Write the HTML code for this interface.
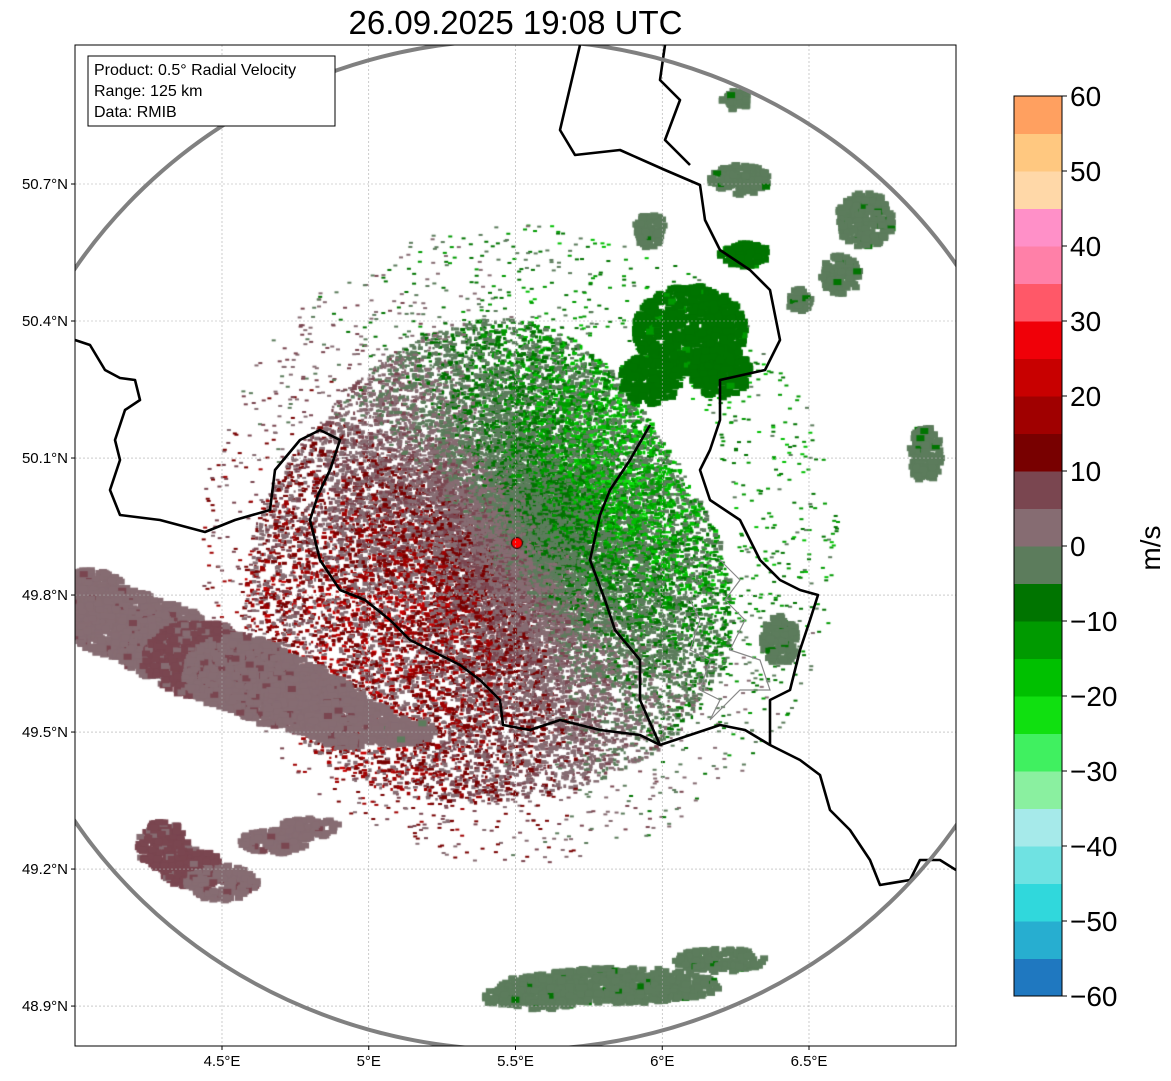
<!DOCTYPE html>
<html><head><meta charset="utf-8"><style>
body{margin:0;background:#fff;width:1171px;height:1081px;overflow:hidden;position:relative;font-family:"Liberation Sans",sans-serif}
#title{position:absolute;left:0;width:1031px;top:4px;text-align:center;font-size:33px;color:#000}
canvas{position:absolute;left:0;top:0}
svg{position:absolute;left:0;top:0}
</style></head><body>
<div id="title">26.09.2025 19:08 UTC</div>
<canvas id="cv" width="1171" height="1081"></canvas>
<svg id="sv" width="1171" height="1081"></svg>
<script>
// ---- data ----
const lonTicks=[4.5,5,5.5,6,6.5];
const lonLabels=["4.5°E","5°E","5.5°E","6°E","6.5°E"];
const latTicks=[50.7,50.4,50.1,49.8,49.5,49.2,48.9];
const latLabels=["50.7°N","50.4°N","50.1°N","49.8°N","49.5°N","49.2°N","48.9°N"];
const cbTicks=[-60,-50,-40,-30,-20,-10,0,10,20,30,40,50,60];
const cbLabels=["−60","−50","−40","−30","−20","−10","0","10","20","30","40","50","60"];
const cbColors=["#1f78c0","#27aed0","#30d8dc","#6fe2e2","#a6eaea","#8af0a0","#40f060","#10e010","#00c000","#009a00","#007400","#5c7c5c","#866c72","#7a4650","#780000","#a00000","#c80000","#f00008","#ff5868","#ff80a8","#ff90c8","#ffd8a8","#ffc880","#ffa060"];
const radarLon=5.505, radarLat=49.914;
// echo blobs: lon, lat, velocity (m/s)
const blobLon=[4.05,4.153,4.30,4.426,4.56,4.698,4.82,4.937,5.107,4.30,4.40,4.50,4.68,4.80,5.857,5.584,6.198,5.448,6.095,5.959,6.198,5.959,6.283,6.692,6.606,6.896,6.470,6.402,6.266,6.249];
const blobLat=[49.79,49.74,49.70,49.66,49.63,49.59,49.56,49.52,49.50,49.25,49.20,49.17,49.26,49.29,48.945,48.93,49.00,48.92,50.38,50.271,50.293,50.599,50.545,50.621,50.501,50.107,50.446,49.701,50.709,50.884];
const blobV=[4,3,4,5,4,4,3,4,2,7,5,4,4,3,-3,-3,-3,-3,-8,-8,-8,-3,-8,-3,-3,-3,-3,-3,-3,-3];
const blobRx=[40,50,50,55,55,55,50,45,35,25,30,35,35,30,100,45,45,20,55,30,30,15,25,28,20,16,12,18,30,14];
const blobRy=[30,35,38,38,38,35,30,25,14,25,20,18,12,10,18,18,12,8,45,25,28,18,12,28,20,28,12,25,15,10];
// ---- axes ----
const X0=75,X1=956,Y0=45,Y1=1046;
const xs=lon=>222+(lon-4.5)*293.5;
const ys=lat=>184+(50.7-lat)*456.7;
const cbY=v=>996-(v+60)*7.5;
function colorOf(v){let i=Math.floor((v+60)/5);i=Math.max(0,Math.min(23,i));return cbColors[i];}
// ---- canvas ----
const c=document.getElementById('cv').getContext('2d');
c.save();c.beginPath();c.rect(X0,Y0,X1-X0,Y1-Y0);c.clip();
let s=12345;function rnd(){s=(s*1664525+1013904223)>>>0;return s/4294967296;}
const cx=xs(radarLon),cy=ys(radarLat);
// dense speckle around radar
for(let k=0;k<40000;k++){
  const a=rnd()*6.283;
  const rmax=235+45*Math.cos(a-2.4)+15*Math.sin(a*3);
  const r=Math.pow(rnd(),0.75)*rmax;
  const px=cx+Math.cos(a)*r,py=cy+Math.sin(a)*r*1.02;
  if(rnd()<r/rmax*0.6) continue;
  const amp=Math.min(1,r/100);
  let v;
  const q=rnd();
  if(q<0.4) v=(-4*Math.cos(a+0.6))+(rnd()-0.5)*3;
  else v=-16*Math.cos(a+0.6)*amp+(rnd()-0.5)*12;
  c.fillStyle=colorOf(v);
  c.fillRect(px,py,2+rnd()*4,2+rnd()*2);
}
// sparse outer scatter
for(let k=0;k<1500;k++){
  const a=rnd()*6.283,r=220+rnd()*100;
  const px=cx+Math.cos(a)*r,py=cy+Math.sin(a)*r;
  let v=-12*Math.cos(a+0.6)+(rnd()-0.5)*16;
  c.fillStyle=colorOf(v);c.fillRect(px,py,4,2);
}
// blobs
for(let b=0;b<blobLon.length;b++){
  const bx=xs(blobLon[b]),by=ys(blobLat[b]);
  const n=Math.floor(blobRx[b]*blobRy[b]*0.3);
  for(let k=0;k<n;k++){
    const a=rnd()*6.283,r=Math.sqrt(rnd());
    const px=bx+Math.cos(a)*r*blobRx[b],py=by+Math.sin(a)*r*blobRy[b];
    const v=blobV[b]+(rnd()<0.25?(rnd()-0.5)*6:0);
    c.fillStyle=colorOf(v);
    c.fillRect(px-4,py-3,8,6);
  }
}
c.restore();
// radar marker
c.beginPath();c.arc(cx,cy,5.5,0,6.283);c.fillStyle="#f00";c.fill();c.strokeStyle="#000";c.lineWidth=1;c.stroke();
// ---- svg overlay ----
const sv=document.getElementById('sv');const NS="http://www.w3.org/2000/svg";
function el(t,at,p){const e=document.createElementNS(NS,t);for(const k in at)e.setAttribute(k,at[k]);(p||sv).appendChild(e);return e;}
const clip=el('clipPath',{id:'mc'});el('rect',{x:X0,y:Y0,width:X1-X0,height:Y1-Y0},clip);
const g=el('g',{'clip-path':'url(#mc)'});
lonTicks.forEach(v=>{const l=el('line',{x1:xs(v),x2:xs(v),y1:Y0,y2:Y1,stroke:'#aaa','stroke-width':0.6,'stroke-dasharray':'2,2'},g);

});
latTicks.forEach(v=>{const l=el('line',{x1:X0,x2:X1,y1:ys(v),y2:ys(v),stroke:'#aaa','stroke-width':0.6,'stroke-dasharray':'2,2'},g);

});
const borders=[
"75,340 90,345 105,370 120,378 135,380 140,400 125,410 115,440 120,460 110,490 120,515 160,520 205,532 235,520 270,510 275,470 300,440 320,430 340,440 330,470 318,495 310,520 320,560 340,590 365,600 390,620 410,640 430,650 460,665 480,680 500,700 503,725 530,730 560,720 600,730 640,735 660,745 690,735 720,725 745,730 770,745 800,760 820,775 830,810 850,830 870,860 880,885 910,880 920,860 940,860 956,870",
"580,45 560,130 575,155 620,150 665,170 700,185 705,220 720,250 750,270 770,290 780,340 765,370 720,380 720,420 710,450 700,470 710,500 740,520 760,560 780,580 800,590 818,595 810,620 800,650 790,690 770,700 770,745",
"665,45 660,80 680,100 665,140 690,165",
"650,425 630,460 610,490 600,515 590,560 605,600 615,630 640,660 640,700 660,745"];
borders.forEach(p=>{const e=el('polyline',{points:p,fill:'none',stroke:'#000','stroke-width':2.6,'stroke-linejoin':'round'},g);

});
const gb=el('polyline',{points:"720,560 740,580 725,600 745,620 730,650 760,660 770,690 740,690 710,720 720,700 700,690 710,660 690,650 700,620 690,600",fill:'none',stroke:'#888','stroke-width':1.2},g);


const ring=el('ellipse',{cx:cx,cy:cy+2,rx:528,ry:505,fill:'none',stroke:'#808080','stroke-width':4},g);


const fr=el('rect',{x:X0,y:Y0,width:X1-X0,height:Y1-Y0,fill:'none',stroke:'#000','stroke-width':1});


lonTicks.forEach((v,i)=>{el('line',{x1:xs(v),x2:xs(v),y1:Y1,y2:Y1+4,stroke:'#000'});
const t=el('text',{x:xs(v),y:Y1+20,'text-anchor':'middle','font-size':15,'font-family':'Liberation Sans'});t.textContent=lonLabels[i];

});
latTicks.forEach((v,i)=>{el('line',{x1:X0-4,x2:X0,y1:ys(v),y2:ys(v),stroke:'#000'});
const t=el('text',{x:X0-7,y:ys(v)+5,'text-anchor':'end','font-size':15,'font-family':'Liberation Sans'});t.textContent=latLabels[i];

});
// info box
const ib=el('rect',{x:88,y:56,width:247,height:70,fill:'#fff',stroke:'#000','stroke-width':1});


["Product: 0.5° Radial Velocity","Range: 125 km","Data: RMIB"].forEach((s2,i)=>{const t=el('text',{x:94,y:75+i*21,'font-size':16,'font-family':'Liberation Sans'});t.textContent=s2;

});
// colorbar
cbColors.forEach((col,i)=>{const v=-60+i*5;const r=el('rect',{x:1014,y:cbY(v+5),width:48,height:cbY(v)-cbY(v+5)+0.5,fill:col});

});
el('rect',{x:1014,y:cbY(60),width:48,height:cbY(-60)-cbY(60),fill:'none',stroke:'#000','stroke-width':1});
cbTicks.forEach((v,i)=>{el('line',{x1:1062,x2:1067,y1:cbY(v),y2:cbY(v),stroke:'#000'});
const t=el('text',{x:1070,y:cbY(v)+10,'font-size':28,'font-family':'Liberation Sans'});t.textContent=cbLabels[i];

});
const ul=el('text',{x:1160,y:548,'font-size':28,'font-family':'Liberation Sans','text-anchor':'middle',transform:'rotate(-90 1160 548)'});ul.textContent="m/s";


</script>
</body></html>
